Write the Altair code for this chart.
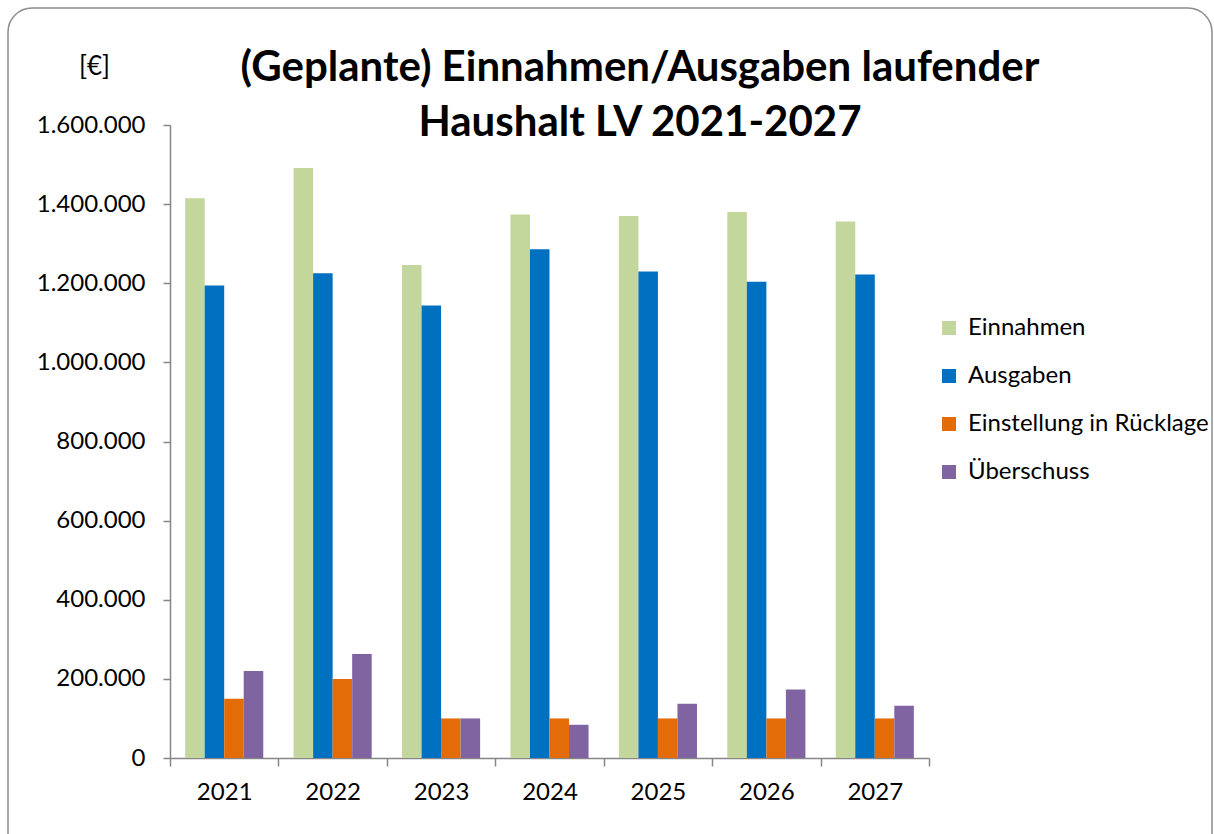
import altair as alt
import pandas as pd

years = ["2021", "2022", "2023", "2024", "2025", "2026", "2027"]
series = ["Einnahmen", "Ausgaben", "Einstellung in Rücklage", "Überschuss"]
einnahmen = [1415000, 1491000, 1246000, 1374000, 1370000, 1380000, 1356000]
ausgaben = [1194000, 1225000, 1144000, 1286000, 1230000, 1204000, 1222000]
ruecklage = [150000, 200000, 100000, 100000, 100000, 100000, 100000]
ueberschuss = [220000, 263000, 100000, 84000, 137000, 173000, 132000]
colors = ["#C3D69B", "#0070C0", "#E36C09", "#8064A2"]
y_ticks = [0, 200000, 400000, 600000, 800000, 1000000, 1200000, 1400000, 1600000]
title_lines = ["(Geplante) Einnahmen/Ausgaben laufender", "Haushalt LV 2021-2027"]

rows = []
for name, vals in zip(series, [einnahmen, ausgaben, ruecklage, ueberschuss]):
    for yr, v in zip(years, vals):
        rows.append({"Jahr": yr, "Reihe": name, "Wert": v})
df = pd.DataFrame(rows)

FONT = "Lato"
LBL = 24

bars = alt.Chart(df).mark_bar().encode(
    x=alt.X("Jahr:N", sort=years,
            scale=alt.Scale(paddingInner=0, paddingOuter=0),
            axis=alt.Axis(title=None, labelAngle=0, tickBand="extent",
                          domainColor="#868686", domainWidth=1.5,
                          tickColor="#868686", tickWidth=1.5, tickSize=8,
                          labelFontSize=LBL, labelFont=FONT, labelColor="#000000",
                          labelPadding=14)),
    xOffset=alt.XOffset("Reihe:N", sort=series,
                        scale=alt.Scale(paddingInner=0, paddingOuter=0.777)),
    y=alt.Y("Wert:Q", scale=alt.Scale(domain=[0, 1600000], nice=False),
            axis=alt.Axis(values=y_ticks, format=",d", grid=False,
                          title="[€]", titleAngle=0, titleX=-76, titleY=-59,
                          titleAlign="center", titleBaseline="middle",
                          titleFontSize=26, titleFontWeight="normal", titleFont=FONT,
                          titleColor="#000000",
                          domainColor="#868686", domainWidth=1.5,
                          tickColor="#868686", tickWidth=1.5, tickSize=7,
                          labelFontSize=LBL, labelFont=FONT, labelColor="#000000",
                          labelPadding=18)),
    color=alt.Color("Reihe:N", sort=series,
                    scale=alt.Scale(domain=series, range=colors),
                    legend=alt.Legend(title=None, orient="none", legendX=767, legendY=191,
                                      symbolType="square", symbolSize=196,
                                      symbolStrokeWidth=0, labelFontSize=LBL,
                                      labelFont=FONT, labelColor="#000000",
                                      labelLimit=0,
                                      rowPadding=24, padding=0, labelOffset=7)),
)

border = alt.Chart(pd.DataFrame({"a": [0]})).mark_rect(
    fill=None, stroke="#8c8c8c", strokeWidth=1.5, cornerRadius=24, clip=False
).encode(
    x=alt.value(-162), x2=alt.value(1042), y=alt.value(-117), y2=alt.value(790)
)

title_df = pd.DataFrame({"t": title_lines, "line": [0, 1]})
title1 = alt.Chart(title_df[title_df.line == 0]).mark_text(
    font=FONT, fontSize=42, fontWeight="bold", color="#000000",
    align="center", baseline="middle"
).encode(text="t:N", x=alt.value(470), y=alt.value(-57))
title2 = alt.Chart(title_df[title_df.line == 1]).mark_text(
    font=FONT, fontSize=42, fontWeight="bold", color="#000000",
    align="center", baseline="middle"
).encode(text="t:N", x=alt.value(470), y=alt.value(-2))

chart = alt.layer(border, bars, title1, title2).properties(
    width=759, height=633,
    padding={"left": 170, "top": 125, "right": 285, "bottom": 76},
    autosize=alt.AutoSizeParams(type="none"),
).configure(
    background="white",
    view=alt.ViewConfig(stroke=None),
    locale={"number": {"decimal": ",", "thousands": ".", "grouping": [3],
                       "currency": ["", " €"]}},
)

chart.save("out.html", embed_options={"renderer": "svg", "actions": False})
